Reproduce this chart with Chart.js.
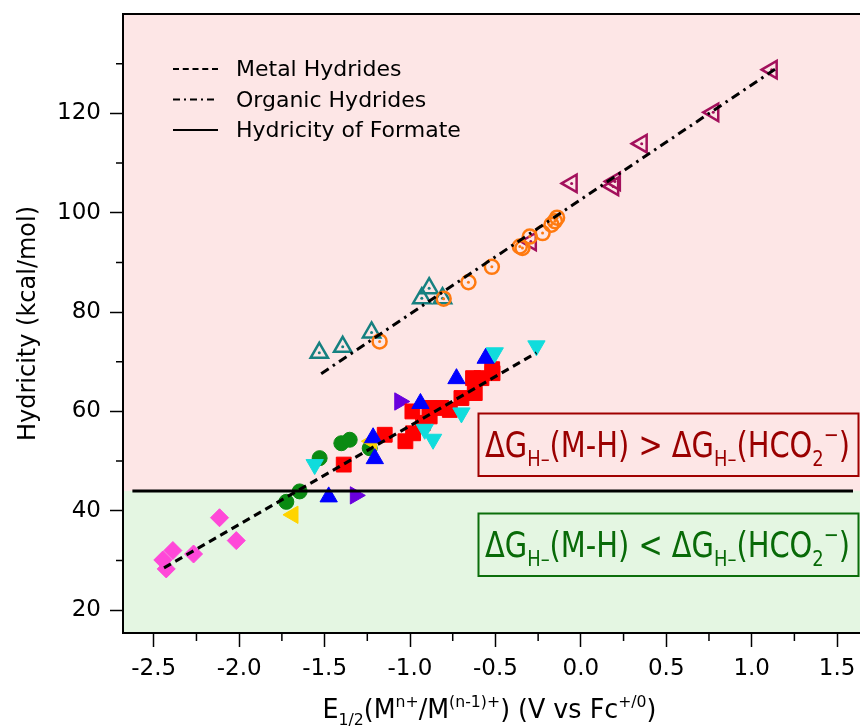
<!DOCTYPE html>
<html>
<head>
<meta charset="utf-8">
<script src="https://cdn.jsdelivr.net/npm/chart.js@4.4.1/dist/chart.umd.min.js"></script>
<style>
  html, body { margin: 0; padding: 0; background: #fff; overflow: hidden; }
  #wrap { width: 860px; height: 727px; }
</style>
</head>
<body>
<div id="wrap"><canvas id="hydricityChart" width="860" height="727"></canvas></div>
<script>
// Axis ticks
const xTicks = [-2.5, -2.0, -1.5, -1.0, -0.5, 0.0, 0.5, 1.0, 1.5];
const xMinorTicks = [-2.25, -1.75, -1.25, -0.75, -0.25, 0.25, 0.75, 1.25];
const yTicks = [20, 40, 60, 80, 100, 120];
const yMinorTicks = [30, 50, 70, 90, 110, 130];

// Metal hydrides (filled markers)
const pinkX = [-2.447, -2.388, -2.427, -2.267, -2.115, -2.017];
const pinkY = [30.1, 32.0, 28.3, 31.3, 38.6, 34.0];
const greenX = [-1.724, -1.646, -1.529, -1.402, -1.353, -1.236];
const greenY = [41.8, 43.9, 50.6, 53.6, 54.3, 52.6];
const yellowX = [-1.685, -1.226];
const yellowY = [39.2, 54.0];
const cyanX = [-1.558, -0.914, -0.865, -0.699, -0.504, -0.26];
const cyanY = [49.3, 56.4, 54.4, 59.7, 71.8, 73.2];
const redX = [-1.388, -1.148, -1.027, -0.982, -0.986, -0.924, -0.885, -0.885, -0.816, -0.767, -0.699, -0.621, -0.631, -0.582, -0.517, -0.519];
const redY = [49.3, 55.3, 54.0, 55.6, 60.0, 57.7, 59.0, 60.7, 60.7, 60.3, 62.7, 63.7, 66.7, 66.7, 67.7, 68.5];
const blueX = [-1.476, -1.206, -1.216, -0.939, -0.728, -0.557];
const blueY = [42.8, 50.5, 54.7, 61.6, 66.6, 70.7];
const purpleX = [-1.32, -1.06];
const purpleY = [43.1, 62.0];

// Organic hydrides (open markers with a centre dot)
const tealX = [-1.531, -1.394, -1.225, -0.931, -0.888, -0.81];
const tealY = [71.8, 73.0, 75.9, 82.8, 84.8, 82.8];
const orangeX = [-1.178, -0.803, -0.658, -0.521, -0.357, -0.342, -0.299, -0.224, -0.172, -0.152, -0.139];
const orangeY = [74.1, 82.7, 86.0, 89.1, 93.2, 92.9, 95.2, 95.9, 97.6, 98.3, 99.0];
const magentaX = [-0.293, -0.054, 0.199, 0.189, 0.356, 0.775, 1.117];
const magentaY = [94.2, 105.9, 106.3, 105.3, 113.9, 120.2, 128.8];

// Fit lines and the formate reference line
const metalFitX = [-2.44, -0.26];
const metalFitY = [28.5, 71.8];
const organicFitX = [-1.52, 1.15];
const organicFitY = [67.6, 129.2];
const formateX = [-2.625, 1.593];
const formateY = [44, 44];

const legendLabels = ['Metal Hydrides', 'Organic Hydrides', 'Hydricity of Formate'];
const yTitle = 'Hydricity (kcal/mol)';

const FONT = "'DejaVu Sans', 'Lucida Grande', sans-serif";
const METAL_DASH = [8, 5];
const ORGANIC_DASH = [9, 5, 2.5, 5];

const pts = (xs, ys) => xs.map((x, i) => ({ x: x, y: ys[i] }));

function lineSet(xs, ys, dash) {
    return {
        data: pts(xs, ys), showLine: true, borderColor: '#000', borderWidth: 3,
        borderDash: dash, pointRadius: 0, fill: false
    };
}

function filledSet(xs, ys, style, color, radius, rotation) {
    return {
        data: pts(xs, ys), pointStyle: style, pointRotation: rotation || 0,
        pointRadius: radius, pointBackgroundColor: color, pointBorderColor: color,
        pointBorderWidth: 1
    };
}

function openSet(xs, ys, style, color, radius, rotation) {
    return {
        data: pts(xs, ys), pointStyle: style, pointRotation: rotation || 0,
        pointRadius: radius, pointBackgroundColor: 'rgba(0,0,0,0)', pointBorderColor: color,
        pointBorderWidth: 2.5
    };
}

function dotSet(xs, ys, color) {
    return {
        data: pts(xs, ys), pointStyle: 'circle', pointRadius: 1.5,
        pointBackgroundColor: color, pointBorderWidth: 0
    };
}

// Draw text with sub/superscripts, squeezed to a target width
function drawRich(ctx, parts, cx, baseline, size, color, width) {
    let w0 = 0;
    parts.forEach(p => {
        ctx.font = (p.s ? size * 0.62 : size) + 'px ' + FONT;
        w0 += ctx.measureText(p.t).width;
    });
    const sx = Math.min(1, width / w0);
    ctx.save();
    ctx.translate(cx - (w0 * sx) / 2, baseline);
    ctx.scale(sx, 1);
    ctx.fillStyle = color;
    ctx.textAlign = 'left';
    ctx.textBaseline = 'alphabetic';
    let x = 0;
    parts.forEach(p => {
        const fs = p.s ? size * 0.62 : size;
        ctx.font = fs + 'px ' + FONT;
        const dy = p.s === 'sub' ? size * 0.27 : (p.s === 'sup' ? -size * 0.42 : 0);
        ctx.fillText(p.t, x, dy);
        x += ctx.measureText(p.t).width;
    });
    ctx.restore();
}

const upperText = [
    { t: 'ΔG' }, { t: 'H–', s: 'sub' }, { t: '(M-H) > ΔG' }, { t: 'H–', s: 'sub' },
    { t: '(HCO' }, { t: '2', s: 'sub' }, { t: '−', s: 'sup' }, { t: ')' }
];
const lowerText = [
    { t: 'ΔG' }, { t: 'H–', s: 'sub' }, { t: '(M-H) < ΔG' }, { t: 'H–', s: 'sub' },
    { t: '(HCO' }, { t: '2', s: 'sub' }, { t: '−', s: 'sup' }, { t: ')' }
];
const xTitleParts = [
    { t: 'E' }, { t: '1/2', s: 'sub' }, { t: '(M' }, { t: 'n+', s: 'sup' }, { t: '/M' },
    { t: '(n-1)+', s: 'sup' }, { t: ') (V vs Fc' }, { t: '+/0', s: 'sup' }, { t: ')' }
];

// Pink / green regions split at the formate hydricity
const bandPlugin = {
    id: 'bands',
    beforeDraw(chart) {
        const { ctx, chartArea: a, scales: { y } } = chart;
        const yf = y.getPixelForValue(formateY[0]);
        ctx.save();
        ctx.fillStyle = '#fde6e6';
        ctx.fillRect(a.left, a.top, a.right - a.left, yf - a.top);
        ctx.fillStyle = '#e4f6e2';
        ctx.fillRect(a.left, yf, a.right - a.left, a.bottom - yf);
        ctx.restore();
    }
};

const decorPlugin = {
    id: 'decor',
    afterDraw(chart) {
        const { ctx, chartArea: a, scales: { x, y } } = chart;
        ctx.save();
        ctx.strokeStyle = '#000';
        ctx.lineWidth = 1.5;
        // minor ticks
        ctx.beginPath();
        xMinorTicks.forEach(v => {
            const px = x.getPixelForValue(v);
            ctx.moveTo(px, a.bottom);
            ctx.lineTo(px, a.bottom + 8);
        });
        yMinorTicks.forEach(v => {
            const py = y.getPixelForValue(v);
            ctx.moveTo(a.left - 7, py);
            ctx.lineTo(a.left, py);
        });
        ctx.stroke();
        // top frame
        ctx.lineWidth = 2;
        ctx.beginPath();
        ctx.moveTo(a.left - 1, a.top);
        ctx.lineTo(a.right, a.top);
        ctx.stroke();

        // legend
        const dashes = [METAL_DASH.map(d => d * 0.75), [7, 4, 2, 4], []];
        ctx.font = '22px ' + FONT;
        ctx.fillStyle = '#000';
        ctx.textBaseline = 'alphabetic';
        legendLabels.forEach((label, i) => {
            const base = 76 + i * 30.5;
            ctx.lineWidth = 2;
            ctx.setLineDash(dashes[i]);
            ctx.beginPath();
            ctx.moveTo(173, base - 7);
            ctx.lineTo(218, base - 7);
            ctx.stroke();
            ctx.setLineDash([]);
            ctx.fillText(label, 236, base);
        });

        // annotation boxes
        ctx.lineWidth = 2;
        ctx.strokeStyle = '#a00000';
        ctx.strokeRect(478.5, 413.5, 380, 62.5);
        drawRich(ctx, upperText, 667.5, 457, 35, '#9a0000', 365);
        ctx.strokeStyle = '#0b6e0b';
        ctx.strokeRect(478.5, 513.5, 380, 62.5);
        drawRich(ctx, lowerText, 667.5, 557, 35, '#086a08', 365);

        // x axis title
        drawRich(ctx, xTitleParts, (a.left + a.right) / 2 - 2, 718, 26, '#000', 334);
        ctx.restore();
    }
};

const tickFont = { family: FONT, size: 23 };

new Chart(document.getElementById('hydricityChart'), {
    type: 'scatter',
    data: {
        datasets: [
            lineSet(formateX, formateY, []),
            lineSet(metalFitX, metalFitY, METAL_DASH),
            lineSet(organicFitX, organicFitY, ORGANIC_DASH),
            dotSet(orangeX, orangeY, '#ff7a10'),
            openSet(orangeX, orangeY, 'circle', '#ff7a10', 7),
            dotSet(tealX, tealY, '#168080'),
            openSet(tealX, tealY, 'triangle', '#168080', 10, 0),
            dotSet(magentaX, magentaY, '#a3105c'),
            openSet(magentaX, magentaY, 'triangle', '#a3105c', 10, 270),
            filledSet(cyanX, cyanY, 'triangle', '#10dcdc', 10, 180),
            filledSet(blueX, blueY, 'triangle', '#0000ff', 10, 0),
            filledSet(yellowX, yellowY, 'triangle', '#ffd400', 10, 270),
            filledSet(redX, redY, 'rect', '#ff0000', 10.5),
            filledSet(purpleX, purpleY, 'triangle', '#6a00dd', 10, 90),
            filledSet(greenX, greenY, 'circle', '#0a8a12', 7.5),
            filledSet(pinkX, pinkY, 'rectRot', '#ff48d8', 9)
        ]
    },
    options: {
        responsive: false,
        animation: false,
        layout: { autoPadding: false, padding: { top: 14, right: 0, bottom: 0, left: 0 } },
        plugins: { legend: { display: false }, tooltip: { enabled: false } },
        scales: {
            x: {
                type: 'linear', min: -2.68, max: 1.634,
                afterBuildTicks: s => { s.ticks = xTicks.map(v => ({ value: v })); },
                afterFit: s => { s.height = 94; s.paddingLeft = 0; s.paddingRight = 0; },
                ticks: { font: tickFont, color: '#000', padding: 8, maxRotation: 0, autoSkip: false,
                         callback: v => Number(v).toFixed(1) },
                grid: { drawOnChartArea: false, tickLength: 14, tickWidth: 1.5, tickColor: '#000' },
                border: { display: true, color: '#000', width: 2 }
            },
            y: {
                type: 'linear', min: 15.4, max: 140,
                afterBuildTicks: s => { s.ticks = yTicks.map(v => ({ value: v })); },
                afterFit: s => { s.width = 123; s.paddingTop = 0; s.paddingBottom = 0; },
                ticks: { font: tickFont, color: '#000', padding: 9 },
                grid: { drawOnChartArea: false, tickLength: 13, tickWidth: 1.5, tickColor: '#000' },
                border: { display: true, color: '#000', width: 2 },
                title: { display: true, text: yTitle, color: '#000',
                         font: { family: FONT, size: 24 }, padding: { top: 14, bottom: 0 } }
            }
        }
    },
    plugins: [bandPlugin, decorPlugin]
});
</script>
</body>
</html>
